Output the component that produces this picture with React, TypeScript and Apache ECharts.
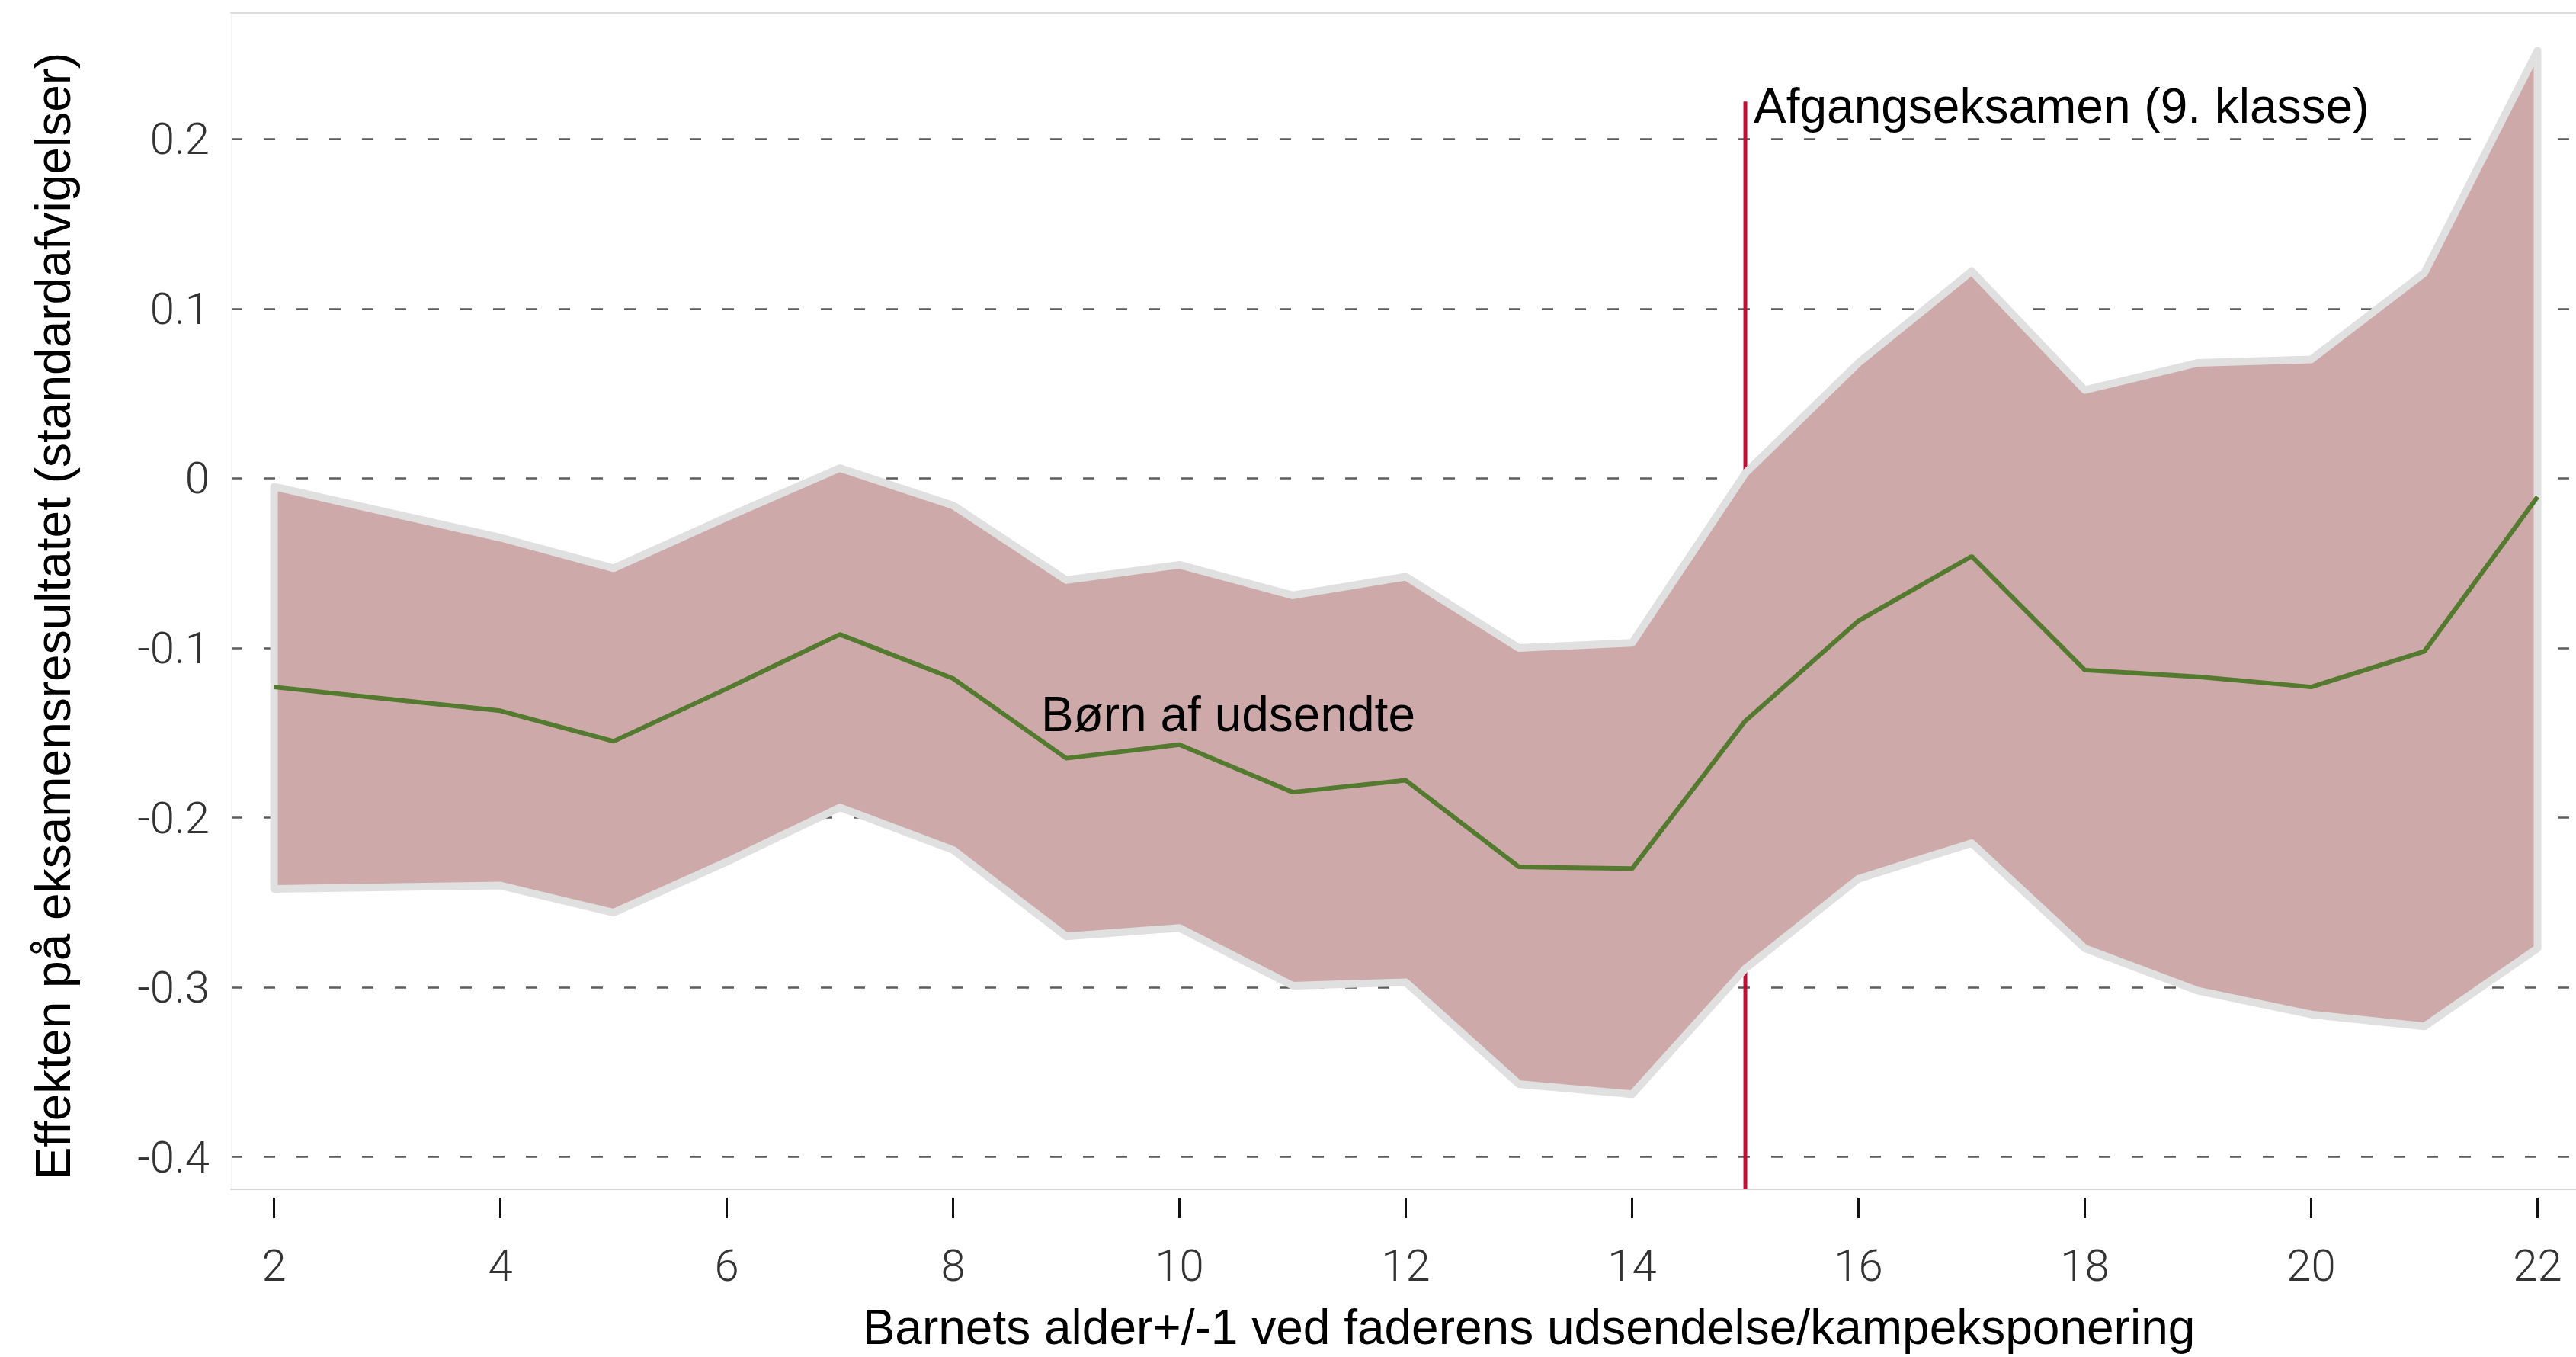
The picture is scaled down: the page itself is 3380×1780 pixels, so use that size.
import React, { useEffect, useRef } from "react";
import * as echarts from "echarts";

// Child's age (+/-1) at the father's deployment
const ages = [2, 4, 5, 6, 7, 8, 9, 10, 11, 12, 13, 14, 15, 16, 17, 18, 19, 20, 21, 22];
// Point estimate (standard deviations)
const estimate = [-0.123, -0.137, -0.155, -0.124, -0.092, -0.118, -0.165, -0.157, -0.185, -0.178, -0.229, -0.230, -0.143, -0.084, -0.046, -0.113, -0.117, -0.123, -0.102, -0.011];
// Confidence band
const upper = [-0.005, -0.035, -0.053, -0.023, 0.006, -0.016, -0.060, -0.051, -0.069, -0.058, -0.100, -0.097, 0.003, 0.068, 0.122, 0.052, 0.068, 0.070, 0.121, 0.252];
const lower = [-0.242, -0.240, -0.256, -0.226, -0.194, -0.219, -0.270, -0.265, -0.299, -0.297, -0.357, -0.363, -0.289, -0.236, -0.215, -0.277, -0.302, -0.316, -0.323, -0.277];

const xTicks = [2, 4, 6, 8, 10, 12, 14, 16, 18, 20, 22];
const yTicks = [-0.4, -0.3, -0.2, -0.1, 0, 0.1, 0.2];

const examAge = 15;
const examLineTop = 0.222;

const X_MIN = 1.619;
const X_MAX = 22.34;
const Y_MIN = -0.419;
const Y_MAX = 0.2742;

const yTitle = "Effekten på eksamensresultatet (standardafvigelser)";
const xTitle = "Barnets alder+/-1 ved faderens udsendelse/kampeksponering";
const examLabel = "Afgangseksamen (9. klasse)";
const seriesLabel = "Børn af udsendte";

const TEXT_FONT = "'Liberation Sans', Arial, Helvetica, sans-serif";
const TICK_FONT = "Roboto, 'Liberation Sans', sans-serif";

const BAND_FILL = "#cda9aa";
const BAND_EDGE = "#e0e0e0";
const LINE_GREEN = "#537a2e";
const EXAM_RED = "#c60c35";

export default function App() {
  const ref = useRef<HTMLDivElement>(null);

  useEffect(() => {
    if (!ref.current) return;
    const chart = echarts.init(ref.current, undefined, { renderer: "svg" });

    const option: any = {
      animation: false,
      backgroundColor: "#ffffff",
      grid: { left: 303, top: 17, right: 0, bottom: 220, containLabel: false },
      xAxis: [
        {
          type: "value",
          min: X_MIN,
          max: X_MAX,
          position: "bottom",
          offset: 11,
          axisLine: { show: false, onZero: false },
          axisTick: {
            show: true,
            length: 27,
            customValues: xTicks,
            lineStyle: { color: "#111111", width: 3 },
          },
          axisLabel: {
            customValues: xTicks,
            fontSize: 58,
            fontFamily: TICK_FONT,
            fontWeight: 300,
            color: "#333333",
            margin: 60,
          },
          splitLine: { show: false },
        },
        {
          type: "value",
          min: X_MIN,
          max: X_MAX,
          position: "bottom",
          axisLine: { show: true, onZero: false, lineStyle: { color: "#d4d4d4", width: 2 } },
          axisTick: { show: false },
          axisLabel: { show: false },
          splitLine: { show: false },
        },
        {
          type: "value",
          min: X_MIN,
          max: X_MAX,
          position: "top",
          axisLine: { show: true, onZero: false, lineStyle: { color: "#dedede", width: 2 } },
          axisTick: { show: false },
          axisLabel: { show: false },
          splitLine: { show: false },
        },
      ],
      yAxis: {
        type: "value",
        min: Y_MIN,
        max: Y_MAX,
        axisLine: { show: true, onZero: false, lineStyle: { color: "#f4f4f4", width: 1 } },
        axisTick: { show: false, customValues: yTicks },
        axisLabel: {
          customValues: yTicks,
          fontSize: 58,
          fontFamily: TICK_FONT,
          fontWeight: 300,
          color: "#333333",
          margin: 28,
          formatter: (v: number) => (Math.abs(v) < 1e-9 ? "0" : String(Math.round(v * 10) / 10)),
        },
        splitLine: {
          show: true,
          lineStyle: { color: "#5c5c5c", width: 2.5, type: [15, 28] },
        },
      },
      series: [
        {
          type: "line",
          name: "exam",
          z: 1,
          symbol: "none",
          silent: true,
          data: [
            [examAge, Y_MIN],
            [examAge, examLineTop],
          ],
          lineStyle: { color: EXAM_RED, width: 5 },
        },
        {
          type: "custom",
          name: "band",
          z: 2,
          silent: true,
          clip: false,
          data: ages.map((a, i) => [a, lower[i], upper[i]]),
          encode: { x: 0, y: [1, 2] },
          renderItem: (params: any, api: any) => {
            if (params.dataIndex !== 0) return { type: "group", children: [] };
            const top = ages.map((a, i) => api.coord([a, upper[i]]));
            const bot = ages.map((a, i) => api.coord([a, lower[i]])).reverse();
            return {
              type: "polygon",
              shape: { points: top.concat(bot) },
              style: {
                fill: BAND_FILL,
                stroke: BAND_EDGE,
                lineWidth: 10,
                lineJoin: "round",
              },
            };
          },
        },
        {
          type: "line",
          name: seriesLabel,
          z: 3,
          symbol: "none",
          silent: true,
          data: ages.map((a, i) => [a, estimate[i]]),
          lineStyle: { color: LINE_GREEN, width: 6 },
        },
      ],
      graphic: [
        {
          type: "text",
          x: 70,
          y: 808,
          rotation: Math.PI / 2,
          style: {
            text: yTitle,
            fontSize: 64,
            fontFamily: TEXT_FONT,
            fill: "#000000",
            align: "center",
            verticalAlign: "middle",
          },
        },
        {
          type: "text",
          x: 2006,
          y: 1741,
          style: {
            text: xTitle,
            fontSize: 64,
            fontFamily: TEXT_FONT,
            fill: "#000000",
            align: "center",
            verticalAlign: "middle",
          },
        },
        {
          type: "text",
          x: 2301,
          y: 139,
          style: {
            text: examLabel,
            fontSize: 64,
            fontFamily: TEXT_FONT,
            fill: "#000000",
            align: "left",
            verticalAlign: "middle",
          },
        },
        {
          type: "text",
          x: 1366,
          y: 937,
          z: 10,
          style: {
            text: seriesLabel,
            fontSize: 64,
            fontFamily: TEXT_FONT,
            fill: "#000000",
            align: "left",
            verticalAlign: "middle",
          },
        },
      ],
    };

    chart.setOption(option);
    return () => {
      chart.dispose();
    };
  }, []);

  return (
    <div
      ref={ref}
      style={{ position: "absolute", left: 0, top: 0, width: 3380, height: 1780 }}
    />
  );
}
